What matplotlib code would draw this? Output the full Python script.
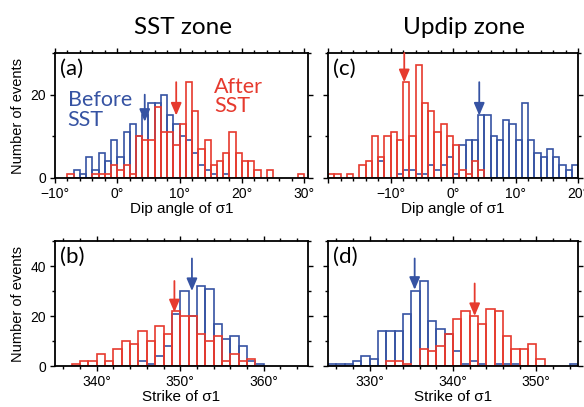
import matplotlib
matplotlib.use("Agg")
import matplotlib.pyplot as plt
from matplotlib.ticker import MultipleLocator, FuncFormatter
import numpy as np

BLUE = "#3653a3"
RED = "#e63a2e"
LABEL_FONT = ["Liberation Sans", "DejaVu Sans"]
TEXT_FONT = ["Lato", "DejaVu Sans"]

# (a) dip angle, SST zone: left edges of 1 degree bins
dipSstEdges = list(range(-9, 30))
dipSstBefore = [0, 0, 2, 1, 5, 2, 6, 4, 9, 5, 11, 13, 10, 15, 18, 18, 20, 15, 13, 10,
                9, 6, 3, 2, 1, 0, 1, 0, 0, 0, 0, 0, 0, 0, 0, 0, 0, 0, 0]
dipSstAfter = [0, 1, 0, 0, 0, 1, 1, 1, 3, 2, 3, 1, 10, 9, 9, 17, 11, 11, 8, 13,
               23, 16, 7, 9, 3, 4, 6, 11, 6, 4, 4, 2, 0, 2, 0, 0, 0, 0, 1]

# (c) dip angle, updip zone
dipUpEdges = list(range(-20, 20))
dipUpBefore = [0, 0, 0, 0, 0, 0, 0, 0, 4, 0, 0, 1, 2, 2, 1, 1, 3, 2, 3, 5,
               1, 8, 9, 9, 15, 15, 10, 9, 14, 13, 9, 18, 9, 6, 5, 7, 5, 3, 2, 3]
dipUpAfter = [1, 1, 0, 1, 0, 3, 4, 10, 5, 10, 11, 9, 23, 10, 27, 18, 16, 11, 13, 10,
              8, 2, 1, 4, 2, 0, 0, 0, 0, 0, 0, 0, 0, 0, 0, 0, 0, 0, 0, 0]

# (b) strike, SST zone
strikeSstEdges = list(range(336, 365))
strikeSstBefore = [0, 0, 0, 0, 0, 0, 0, 0, 0, 2, 1, 4, 8, 21, 30, 20, 32, 31, 17, 11,
                   12, 8, 2, 1, 0, 0, 0, 0, 0]
strikeSstAfter = [0, 1, 2, 2, 5, 2, 7, 10, 9, 14, 10, 16, 13, 22, 20, 20, 13, 10, 12, 2,
                  5, 2, 3, 0, 0, 0, 0, 0, 0]

# (d) strike, updip zone
strikeUpEdges = list(range(325, 355))
strikeUpBefore = [1, 1, 1, 2, 4, 3, 14, 14, 14, 21, 30, 34, 18, 15, 13, 6, 1, 2, 1, 0,
                  1, 1, 1, 0, 0, 0, 0, 0, 0, 1]
strikeUpAfter = [0, 0, 0, 0, 0, 0, 0, 2, 2, 1, 0, 7, 6, 8, 13, 19, 22, 20, 17, 23,
                 22, 12, 7, 7, 9, 3, 0, 0, 0, 0]

# median arrows: (x, arrow top, arrow tip) for before / after, order a, b, c, d
arrowsBefore = [(4.4, 20, 13.5), (351.4, 43, 30), (4.2, 23, 15), (335.4, 43, 30.5)]
arrowsAfter = [(9.45, 23, 15), (349.3, 34, 21.5), (-7.8, 30, 23), (342.6, 33, 20)]

fig = plt.figure(figsize=(5.84, 4.07), dpi=100)
W, H = 584.0, 407.0

def axesAt(left, right, top, bottom):
    return fig.add_axes([left / W, 1 - bottom / H, (right - left) / W, (bottom - top) / H])

axA = axesAt(55, 308, 53, 178)
axC = axesAt(328, 578, 53, 178)
axB = axesAt(55, 308, 241, 366)
axD = axesAt(328, 578, 241, 366)

panels = [
    (axA, dipSstEdges, dipSstBefore, dipSstAfter, (-10, 30.6), (0, 30), "(a)", "Dip angle of σ1"),
    (axB, strikeSstEdges, strikeSstBefore, strikeSstAfter, (335, 365.3), (0, 50), "(b)", "Strike of σ1"),
    (axC, dipUpEdges, dipUpBefore, dipUpAfter, (-20, 20), (0, 30), "(c)", "Dip angle of σ1"),
    (axD, strikeUpEdges, strikeUpBefore, strikeUpAfter, (325, 355), (0, 50), "(d)", "Strike of σ1"),
]

def degLabel(v, p, skip=None):
    v = int(round(v))
    if skip is not None and v == skip:
        return ""
    return f"{v}°".replace("-", "\u2212")

for i, (ax, edges, before, after, xl, yl, tag, xlab) in enumerate(panels):
    edges = np.array(edges)
    for counts, col in ((before, BLUE), (after, RED)):
        counts = np.array(counts)
        m = counts > 0
        ax.bar(edges[m], counts[m], width=1, align="edge", fill=False,
               edgecolor=col, linewidth=1.2)
    for (x, y0, y1), col in ((arrowsBefore[i], BLUE), (arrowsAfter[i], RED)):
        ax.annotate("", xy=(x, y1), xytext=(x, y0),
                    arrowprops=dict(arrowstyle="-|>,head_length=0.75,head_width=0.32",
                                    color=col, lw=1.3, shrinkA=0, shrinkB=0),
                    annotation_clip=False)
    ax.set_xlim(*xl)
    ax.set_ylim(*yl)
    ax.xaxis.set_major_locator(MultipleLocator(10))
    ax.xaxis.set_minor_locator(MultipleLocator(2))
    ax.yaxis.set_major_locator(MultipleLocator(20))
    ax.yaxis.set_minor_locator(MultipleLocator(10))
    skip = -20 if ax is axC else None
    ax.xaxis.set_major_formatter(FuncFormatter(lambda v, p, s=skip: degLabel(v, p, s)))
    left_panel = ax in (axA, axB)
    ax.tick_params(which="both", direction="out", top=True, right=True,
                   labelleft=left_panel, width=1.0, labelsize=10, pad=2.5)
    ax.tick_params(which="major", length=3.8)
    ax.tick_params(which="minor", length=2.0)
    for lab in ax.get_xticklabels() + ax.get_yticklabels():
        lab.set_family(LABEL_FONT)
    for s in ax.spines.values():
        s.set_linewidth(1.3)
    ax.set_xlabel(xlab, fontsize=11, family=LABEL_FONT, labelpad=1)
    if left_panel:
        ax.set_ylabel("Number of events", fontsize=10.5, family=LABEL_FONT, labelpad=4)
    ax.text(0.02, 0.955, tag, transform=ax.transAxes, ha="left", va="top",
            fontsize=16, family=TEXT_FONT)

axA.text(0.05, 0.70, "Before\nSST", transform=axA.transAxes, ha="left", va="top",
         color=BLUE, fontsize=15.5, family=TEXT_FONT, linespacing=0.95)
axA.text(0.63, 0.81, "After\nSST", transform=axA.transAxes, ha="left", va="top",
         color=RED, fontsize=15.5, family=TEXT_FONT, linespacing=0.95)

fig.text(183 / W, 1 - 34 / H, "SST zone", ha="center", va="baseline",
         fontsize=17.5, family=TEXT_FONT)
fig.text(464 / W, 1 - 34 / H, "Updip zone", ha="center", va="baseline",
         fontsize=17.5, family=TEXT_FONT)

fig.savefig("out.png", dpi=100)
